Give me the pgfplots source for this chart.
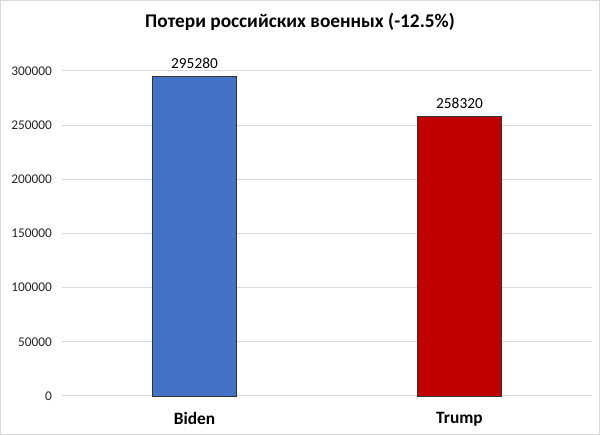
\documentclass[border=0pt]{standalone}
\usepackage{pgfplots}
\pgfplotsset{compat=1.18}
\usepackage{fontspec}
\setmainfont{Carlito}
\definecolor{bidenblue}{HTML}{4472C4}
\definecolor{trumpred}{HTML}{C00000}
\definecolor{gridgray}{HTML}{D9D9D9}
\definecolor{ticktext}{HTML}{262626}
\begin{document}
\begin{tikzpicture}
\useasboundingbox (0,0) rectangle (450pt,326.25pt);
\draw[gridgray, line width=0.75pt] (0.4pt,0.4pt) rectangle (449.6pt,325.85pt);
\node[font=\fontsize{14.5}{16}\selectfont\bfseries] at (225pt,309.75pt) {Потери российских военных (-12.5\%)};
\begin{axis}[
  at={(46.5pt,29.25pt)}, anchor=south west,
  scale only axis, width=397.5pt, height=243.75pt,
  xmin=-0.5, xmax=1.5, ymin=0, ymax=300000,
  axis line style={draw=none},
  xtick={0,1}, xticklabels={Biden,Trump},
  xticklabel style={font=\fontsize{13}{15}\selectfont\bfseries, yshift=-9pt},
  ytick={0,50000,100000,150000,200000,250000,300000},
  yticklabel style={font=\fontsize{10}{12}\selectfont, text=ticktext, xshift=-4pt},
  /pgf/number format/assume math mode=true,
  scaled y ticks=false,
  yticklabel={\pgfmathprintnumber[fixed,precision=0,1000 sep={}]{\tick}},
  major tick length=0pt,
  ymajorgrids, grid style={gridgray, line width=0.75pt},
  ybar, bar width=62.5pt, bar shift=0pt,
  nodes near coords,
  nodes near coords style={font=\fontsize{11.5}{13}\selectfont, text=black, yshift=2pt},
  point meta=explicit symbolic,
  clip=false,
]
\addplot[fill=bidenblue, draw=black!80, line width=0.6pt] coordinates {(0,295280) [295280]};
\addplot[fill=trumpred, draw=black!80, line width=0.6pt] coordinates {(1,258320) [258320]};
\end{axis}
\end{tikzpicture}
\end{document}
